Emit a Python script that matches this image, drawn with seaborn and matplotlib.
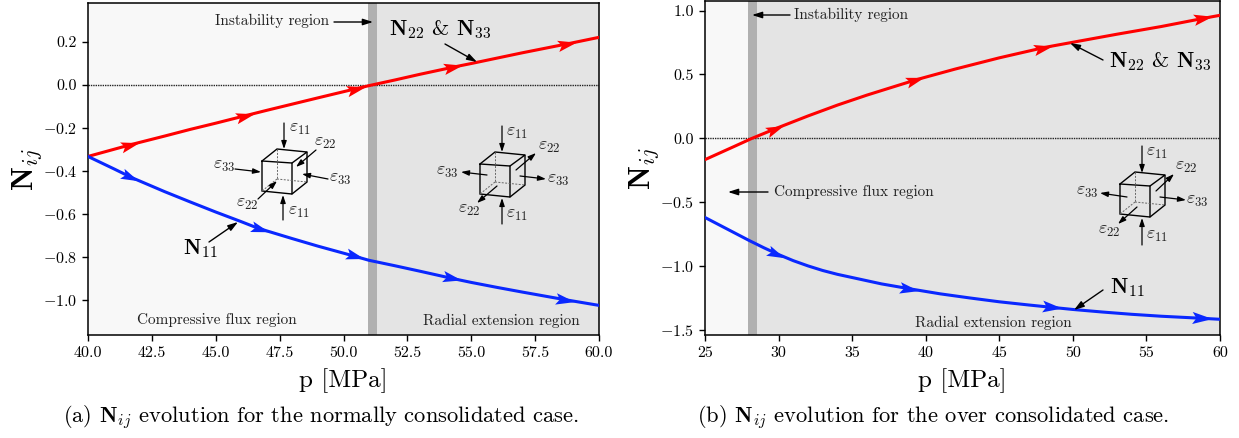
import numpy as np
import seaborn as sns
import matplotlib.pyplot as plt
from matplotlib.path import Path
from matplotlib.transforms import Affine2D

# Panel (a), normally consolidated
p_a_red = [40, 41.74, 43, 44, 45, 46.16, 47, 48, 49, 50.5, 51, 52, 53, 54.37, 55, 56, 57, 58.86, 60]
red_a = [-0.333, -0.276, -0.238, -0.207, -0.178, -0.143, -0.118, -0.089, -0.060, -0.017, -0.003,
         0.023, 0.05, 0.085, 0.10, 0.125, 0.15, 0.194, 0.222]
p_a_blue = [40, 41, 41.74, 43, 44, 45, 46, 46.6, 47, 48, 49, 50.5, 51, 52, 53, 54.2, 55, 56, 57, 58.6, 60]
blue_a = [-0.333, -0.39, -0.433, -0.497, -0.545, -0.592, -0.637, -0.665, -0.68, -0.716, -0.751, -0.80,
          -0.817, -0.842, -0.868, -0.90, -0.92, -0.943, -0.965, -0.999, -1.027]
# Panel (b), over consolidated
p_b_red = [25, 26, 27, 28.2, 30, 32, 34, 36, 38, 39.4, 42, 45, 48.1, 50, 53, 56, 59, 60]
red_b = [-0.167, -0.115, -0.063, 0.0, 0.085, 0.175, 0.26, 0.338, 0.41, 0.46, 0.542, 0.63, 0.712, 0.752,
         0.815, 0.875, 0.942, 0.963]
p_b_blue = [25, 26, 27, 28, 29, 30, 31, 32, 33, 34, 35, 37, 39, 41, 43, 45, 47, 48.7, 50, 52, 54, 56, 58.9, 60]
blue_b = [-0.62, -0.68, -0.74, -0.80, -0.857, -0.91, -0.958, -0.999, -1.035, -1.065, -1.09, -1.14, -1.18,
          -1.218, -1.25, -1.28, -1.305, -1.325, -1.34, -1.36, -1.378, -1.393, -1.41, -1.417]

xticks_a = [40, 42.5, 45, 47.5, 50, 52.5, 55, 57.5, 60]
yticks_a = [-1.0, -0.8, -0.6, -0.4, -0.2, 0.0, 0.2]
xticks_b = [25, 30, 35, 40, 45, 50, 55, 60]
yticks_b = [-1.5, -1.0, -0.5, 0.0, 0.5, 1.0]
flow_a_red = [41.65, 46.15, 50.5, 54.3, 58.75]
flow_a_blue = [41.65, 46.75, 50.45, 54.25, 58.65]
flow_b_red = [29.75, 39.25, 47.95, 58.85]
flow_b_blue = [29.85, 38.85, 48.55, 58.75]

W, H = 1239, 438
RED, BLUE = '#ff0000', '#0a28ff'

sns.set_theme(style="ticks")
plt.rcParams.update({
    'font.family': ['cmr10', 'DejaVu Sans'],
    'mathtext.fontset': 'cm',
    'axes.formatter.use_mathtext': True,
    'axes.unicode_minus': True,
    'text.color': 'black',
    'axes.labelcolor': 'black',
    'xtick.color': 'black',
    'ytick.color': 'black',
    'axes.edgecolor': 'black',
})

fig = plt.figure(figsize=(W / 100, H / 100), dpi=100)


def box(x0, x1, y0, y1):
    return [x0 / W, 1 - y1 / H, (x1 - x0) / W, (y1 - y0) / H]


ax_a = fig.add_axes(box(88, 599, 3, 335))
ax_b = fig.add_axes(box(705, 1220, 1, 335))
# overlay in pixel coordinates for the cube sketches and notes
ov = fig.add_axes([0, 0, 1, 1], zorder=10)
ov.set_xlim(0, W)
ov.set_ylim(H, 0)
ov.axis('off')

STEALTH = Path([(-1, -0.6), (1, 0), (-1, 0.6), (-0.6, 0), (-1, -0.6)],
               [Path.MOVETO, Path.LINETO, Path.LINETO, Path.LINETO, Path.CLOSEPOLY])


def flow_arrows(ax, xs, ys, where, color):
    for x0 in where:
        y0 = np.interp(x0, xs, ys)
        y1 = np.interp(x0 + 0.2, xs, ys)
        a = ax.transData.transform([[x0, y0], [x0 + 0.2, y1]])
        ang = np.arctan2(a[1, 1] - a[0, 1], a[1, 0] - a[0, 0])
        ax.plot([x0], [y0], marker=STEALTH.transformed(Affine2D().rotate(ang)), ms=15, color=color,
                mew=0, zorder=6, clip_on=False)


def panel(ax, xlim, ylim, xticks, yticks, unstable, xfmt):
    ax.set_xlim(xlim)
    ax.set_ylim(ylim)
    ax.axvspan(xlim[0], unstable[0], color='#f8f8f8', lw=0, zorder=0)
    ax.axvspan(unstable[0], unstable[1], color='#b0b0b0', lw=0, zorder=0)
    ax.axvspan(unstable[1], xlim[1], color='#e4e4e4', lw=0, zorder=0)
    ax.axhline(0, color='#222222', lw=1.0, ls=(0, (1, 0.7)), zorder=1)
    ax.set_xticks(xticks)
    ax.set_xticklabels([xfmt % v for v in xticks])
    ax.set_yticks(yticks)
    ax.set_yticklabels([('$-$' if v < 0 else '') + '%.1f' % abs(v) for v in yticks])
    ax.tick_params(labelsize=11.5, length=4, width=1, pad=4)
    for s in ax.spines.values():
        s.set_linewidth(1.1)


def curves(ax, xr, yr, xb, yb, xlim, ylim):
    sns.lineplot(x=xr, y=yr, color=RED, lw=2.2, ax=ax, zorder=5)
    sns.lineplot(x=xb, y=yb, color=BLUE, lw=2.2, ax=ax, zorder=5)
    ax.set_xlim(xlim)
    ax.set_ylim(ylim)
    ax.set_xlabel('p [MPa]', fontsize=18, labelpad=6)
    ax.set_ylabel(r'$\mathbf{N}_{ij}$', fontsize=22)


panel(ax_a, (40, 60), (-1.165, 0.382), xticks_a, yticks_a, (50.95, 51.3), '%.1f')
panel(ax_b, (25, 60), (-1.54, 1.075), xticks_b, yticks_b, (27.9, 28.55), '%d')
curves(ax_a, p_a_red, red_a, p_a_blue, blue_a, (40, 60), (-1.165, 0.382))
curves(ax_b, p_b_red, red_b, p_b_blue, blue_b, (25, 60), (-1.54, 1.075))
ax_a.yaxis.set_label_coords((44 - 88) / 511, 0.5)
ax_b.yaxis.set_label_coords((661 - 705) / 515, 0.5)
flow_arrows(ax_a, p_a_red, red_a, flow_a_red, RED)
flow_arrows(ax_a, p_a_blue, blue_a, flow_a_blue, BLUE)
flow_arrows(ax_b, p_b_red, red_b, flow_b_red, RED)
flow_arrows(ax_b, p_b_blue, blue_b, flow_b_blue, BLUE)


def note(start, end, lw=1.0, head=0.9):
    ov.annotate('', xy=end, xytext=start,
                arrowprops=dict(arrowstyle='-|>,head_length=%.2f,head_width=%.2f' % (head * 0.55, head * 0.18),
                                color='black', lw=lw, shrinkA=0, shrinkB=0))


def label(x, y, s, size=10.5, color='#222222', ha='center'):
    ov.text(x, y, s, fontsize=size, color=color, ha=ha, va='center')


def cube(x, y):
    front = [(0, 0), (30, 2), (30, 33), (0, 30), (0, 0)]
    top = [(0, 0), (15, -12), (45, -9), (30, 2)]
    side = [(45, -9), (45, 21), (30, 33)]
    hidden = [[(15, -12), (15, 18)], [(15, 18), (45, 21)], [(15, 18), (0, 30)]]
    for pts in (front, top, side):
        a = np.array(pts) + (x, y)
        ov.plot(a[:, 0], a[:, 1], color='black', lw=1.0, solid_joinstyle='miter')
    for pts in hidden:
        a = np.array(pts) + (x, y)
        ov.plot(a[:, 0], a[:, 1], color='#666666', lw=0.7, ls=(0, (2, 1.5)))


E11, E22, E33 = r'$\varepsilon_{11}$', r'$\varepsilon_{22}$', r'$\varepsilon_{33}$'

# compressive cube, panel (a)
cube(262, 161)
for s, e in [((284, 123), (284, 149)), ((316, 150), (296, 167)), ((235, 169), (261, 172)),
             ((328, 179), (302, 174)), ((258, 199), (277, 181)), ((283, 220), (283, 195))]:
    note(s, e, lw=0.9, head=0.7)
for x, y, s in [(300, 129, E11), (325, 143, E22), (224, 166, E33), (340, 179, E33), (247, 204, E22), (299, 212, E11)]:
    label(x, y, s, size=13)

# extension cube, panel (a)
cube(480, 164)
for s, e in [((502, 126), (502, 152)), ((516, 170), (536, 153)), ((487, 175), (461, 172)),
             ((520, 176), (546, 179)), ((497, 186), (477, 203)), ((502, 224), (502, 198))]:
    note(s, e, lw=0.9, head=0.7)
for x, y, s in [(517, 133, E11), (549, 147, E22), (447, 172, E33), (558, 180, E33), (469, 210, E22), (517, 215, E11)]:
    label(x, y, s, size=13)

# extension cube, panel (b)
cube(1120, 184)
for s, e in [((1142, 146), (1142, 173)), ((1156, 191), (1174, 174)), ((1127, 197), (1100, 193)),
             ((1160, 197), (1186, 200)), ((1137, 207), (1118, 224)), ((1142, 245), (1142, 218))]:
    note(s, e, lw=0.9, head=0.7)
for x, y, s in [(1157, 153, E11), (1186, 167, E22), (1087, 192, E33), (1197, 201, E33), (1109, 231, E22), (1157, 236, E11)]:
    label(x, y, s, size=13)

BIG = r'$\mathbf{N}_{22}$ & $\mathbf{N}_{33}$'
N11 = r'$\mathbf{N}_{11}$'

label(272, 21, 'Instability region', size=11)
note((334, 22), (373, 22))
label(440, 30, BIG, size=16, color='black')
note((445, 44), (477, 62))
label(200, 249, N11, size=16, color='black')
note((209, 242), (238, 222))
label(217, 320, 'Compressive flux region', size=11)
label(501, 321, 'Radial extension region', size=11)

label(794, 15, 'Instability region', size=11, ha='left')
note((790, 15), (752, 15))
label(774, 192, 'Compressive flux region', size=11, ha='left')
note((768, 192), (728, 192))
label(1160, 62, BIG, size=16, color='black')
note((1103, 60), (1070, 43))
label(1127, 288, N11, size=16, color='black')
note((1103, 290), (1074, 310))
label(993, 323, 'Radial extension region', size=11)

label(321, 418, r'(a) $\mathbf{N}_{ij}$ evolution for the normally consolidated case.', size=16.2, color='black')
label(933, 418, r'(b) $\mathbf{N}_{ij}$ evolution for the over consolidated case.', size=16.2, color='black')

fig.savefig('out.png', dpi=100)
